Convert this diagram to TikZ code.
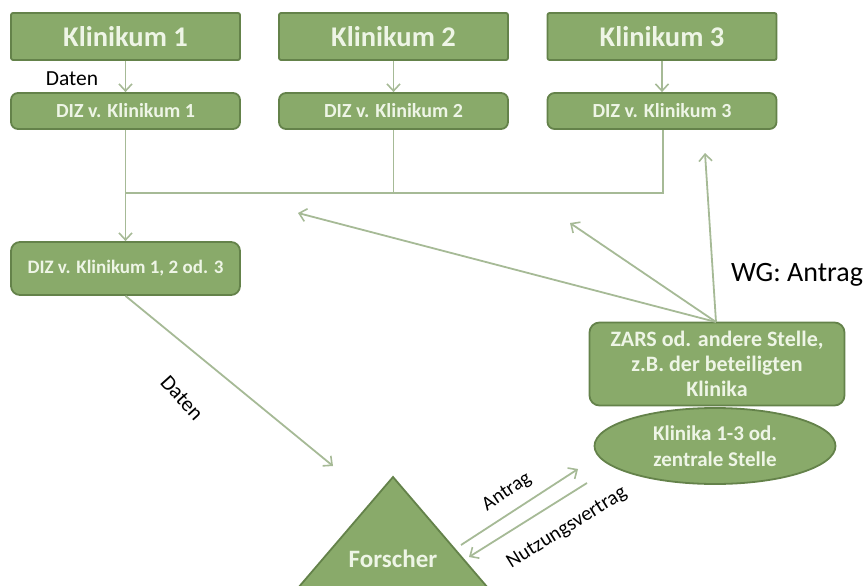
\documentclass[tikz,border=0pt]{standalone}
\usepackage{fontspec}
\setmainfont{Carlito}
\usetikzlibrary{arrows.meta,shapes.geometric}
\definecolor{boxfill}{RGB}{137,170,106}
\definecolor{boxline}{RGB}{100,130,74}
\definecolor{boxtext}{RGB}{238,245,230}
\definecolor{conncol}{RGB}{166,186,150}
\tikzset{
  base/.style={draw=boxline, fill=boxfill, line width=1.8pt, text=boxtext, font=\bfseries, align=center, inner sep=0pt},
  topbox/.style={base, rounded corners=2pt, minimum width=229pt, minimum height=47pt, font=\bfseries\fontsize{28.5}{32}\selectfont},
  dizbox/.style={base, rounded corners=7pt, minimum width=229pt, minimum height=36pt, font=\bfseries\fontsize{20}{24}\selectfont},
  conn/.style={draw=conncol, line width=1.8pt},
  arr/.style={conn, -{Straight Barb[length=7pt,width=13pt,line width=1.6pt]}},
  lbl/.style={text=black, inner sep=0pt}
}
\begin{document}
\begin{tikzpicture}[x=1pt,y=-1pt]
\useasboundingbox (0,0) rectangle (867,586);
% top row
\node[topbox] (k1) at (125.5,36.5) {Klinikum 1};
\node[topbox] (k2) at (393.5,36.5) {Klinikum 2};
\node[topbox] (k3) at (662,36.5) {Klinikum 3};
\node[dizbox] (d1) at (125.5,111) {DIZ v. Klinikum 1};
\node[dizbox] (d2) at (393.5,111) {DIZ v. Klinikum 2};
\node[dizbox] (d3) at (662,111) {DIZ v. Klinikum 3};
\draw[arr] (k1) -- (d1);
\draw[arr] (k2) -- (d2);
\draw[arr] (k3) -- (d3);
\node[lbl, font=\fontsize{21.5}{24}\selectfont] (daten1) at (72,79) {Daten};
% merge
\coordinate (j1) at (125.5,193);
\coordinate (j3) at (663,193);
\node[dizbox, minimum height=53pt, rounded corners=9pt, font=\bfseries\fontsize{19}{23}\selectfont] (dz) at (125.5,268.5) {DIZ v. Klinikum 1, 2 od. 3};
\draw[conn] (d3.south -| j3) -- (j3) -- (j1);
\draw[conn] (d2.south) -- (d2.south |- j1);
\draw[arr] (d1.south) -- (dz.north);
% Forscher triangle
\coordinate (ta) at (393,477);
\coordinate (tl) at (298,588);
\coordinate (tr) at (488,588);
\draw[draw=boxline, fill=boxfill, line width=1.8pt, line join=miter] (tl) -- (ta) -- (tr) -- cycle;
\node[text=boxtext, font=\bfseries\fontsize{25}{29}\selectfont] (fo) at (393,559) {Forscher};
% Daten arrow
\coordinate (dend) at (333,466);
\draw[arr] (dz.south) -- (dend);
\node[lbl, font=\fontsize{21.5}{24}\selectfont, rotate=-48] (daten2) at (182,398) {Daten};
% ZARS
\node[base, rounded corners=10pt, minimum width=255pt, minimum height=83pt, font=\bfseries\fontsize{22}{25}\selectfont] (zars) at (717,364) {ZARS od. andere Stelle,\\z.B. der beteiligten\\Klinika};
\node[base, ellipse, minimum width=241pt, minimum height=76pt, font=\bfseries\fontsize{21}{26}\selectfont] (kl) at (715,446) {Klinika 1-3 od.\\zentrale Stelle};
\node[lbl, font=\fontsize{28}{32}\selectfont] (wg) at (797,275) {WG: Antrag};
\coordinate (zt) at (716,322);
\coordinate (e1) at (705,153);
\coordinate (e2) at (570,223);
\coordinate (e3) at (298,213);
\draw[arr] (zt) -- (e1);
\draw[arr] (zt) -- (e2);
\draw[arr] (zt) -- (e3);
% Antrag / Nutzungsvertrag
\coordinate (a1) at (461,545);
\coordinate (a2) at (578,469);
\coordinate (n1) at (587,483);
\coordinate (n2) at (469,557);
\draw[arr] (a1) -- (a2);
\draw[arr] (n1) -- (n2);
\node[lbl, font=\fontsize{20}{23}\selectfont, rotate=34] (antrag) at (507,492) {Antrag};
\node[lbl, font=\fontsize{20.5}{23}\selectfont, rotate=32] (nv) at (567,528) {Nutzungsvertrag};
\end{tikzpicture}
\end{document}
